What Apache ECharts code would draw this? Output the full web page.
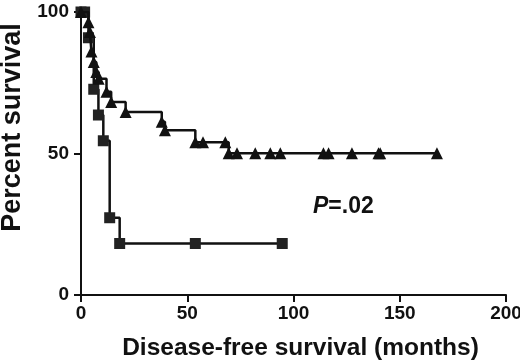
<!DOCTYPE html>
<html>
<head>
<meta charset="utf-8">
<script src="https://cdn.jsdelivr.net/npm/echarts@6/dist/echarts.min.js"></script>
<style>
  html, body { margin: 0; padding: 0; background: #fff; }
  #chart { width: 520px; height: 361px; }
</style>
</head>
<body>
<div id="chart"></div>
<script>
// months, percent survival (Kaplan-Meier points)
var triangleMonths = [0, 3.5, 4.2, 4.9, 6, 7.2, 8.3, 12, 14.2, 21, 38, 39.5, 53.8, 57.4, 67.9, 69.5, 73.4, 82, 89.1, 93.8, 114.1, 116.5, 127.5, 140, 140.8, 167.5];
var triangleSurvival = [100, 96.4, 92.9, 86, 82.3, 78.8, 76.4, 71.8, 68.2, 64.7, 61.2, 58.2, 54, 54, 54, 50.1, 50.1, 50.1, 50.1, 50.1, 50.1, 50.1, 50.1, 50.1, 50.1, 50.1];

var squareMonths = [0, 1.7, 3.5, 6, 8.2, 10.5, 13.5, 18.2, 53.8, 94.7];
var squareSurvival = [100, 100, 90.9, 72.7, 63.6, 54.5, 27.3, 18.2, 18.2, 18.2];

var xTicks = [0, 50, 100, 150, 200];
var yTicks = [0, 50, 100];

function pairs(xs, ys) {
    return xs.map(function (x, i) { return [x, ys[i]]; });
}

var fontFamily = '"Liberation Sans", Arial, Helvetica, sans-serif';

var chart = echarts.init(document.getElementById('chart'));

var option = {
    animation: false,
    grid: {
        left: 81,
        right: 14,
        top: 12,
        bottom: 66,
        outerBoundsMode: 'none',
        containLabel: false
    },
    xAxis: {
        type: 'value',
        min: xTicks[0],
        max: xTicks[xTicks.length - 1],
        interval: 50,
        name: 'Disease-free survival (months)',
        nameLocation: 'middle',
        nameGap: 41,
        nameTextStyle: { fontFamily: fontFamily, fontWeight: 'bold', fontSize: 24.5, color: '#111', padding: [0, 0, 0, 14] },
        axisLine: { onZero: false, lineStyle: { color: '#111', width: 2 } },
        axisTick: { length: 7, lineStyle: { color: '#111', width: 2 } },
        axisLabel: { fontFamily: fontFamily, fontWeight: 'bold', fontSize: 19, color: '#111', margin: 9 },
        splitLine: { show: false }
    },
    yAxis: {
        type: 'value',
        min: yTicks[0],
        max: yTicks[yTicks.length - 1],
        interval: 50,
        name: 'Percent survival',
        nameLocation: 'middle',
        nameGap: 50,
        nameTextStyle: { fontFamily: fontFamily, fontWeight: 'bold', fontSize: 27, color: '#111', padding: [0, 0, 0, 52] },
        axisLine: { show: true, lineStyle: { color: '#111', width: 2 } },
        axisTick: { show: true, length: 7, lineStyle: { color: '#111', width: 2 } },
        axisLabel: { fontFamily: fontFamily, fontWeight: 'bold', fontSize: 19, color: '#111', margin: 12 },
        splitLine: { show: false }
    },
    graphic: [
        {
            type: 'text',
            left: 313,
            top: 195,
            style: {
                text: '{p|P}{r|=.02}',
                rich: {
                    p: { fontFamily: fontFamily, fontWeight: 'bold', fontStyle: 'italic', fontSize: 23, fill: '#111' },
                    r: { fontFamily: fontFamily, fontWeight: 'bold', fontSize: 23, fill: '#111' }
                }
            }
        }
    ],
    series: [
        {
            name: 'triangles',
            type: 'line',
            step: 'end',
            data: pairs(triangleMonths, triangleSurvival),
            symbol: 'triangle',
            symbolSize: 12,
            showAllSymbol: true,
            lineStyle: { color: '#111', width: 2.5 },
            itemStyle: { color: '#111' },
            z: 3
        },
        {
            name: 'squares',
            type: 'line',
            step: 'end',
            data: pairs(squareMonths, squareSurvival),
            symbol: 'rect',
            symbolSize: 11,
            showAllSymbol: true,
            lineStyle: { color: '#111', width: 2.5 },
            itemStyle: { color: '#222' },
            z: 2
        }
    ]
};

chart.setOption(option);
</script>
</body>
</html>
